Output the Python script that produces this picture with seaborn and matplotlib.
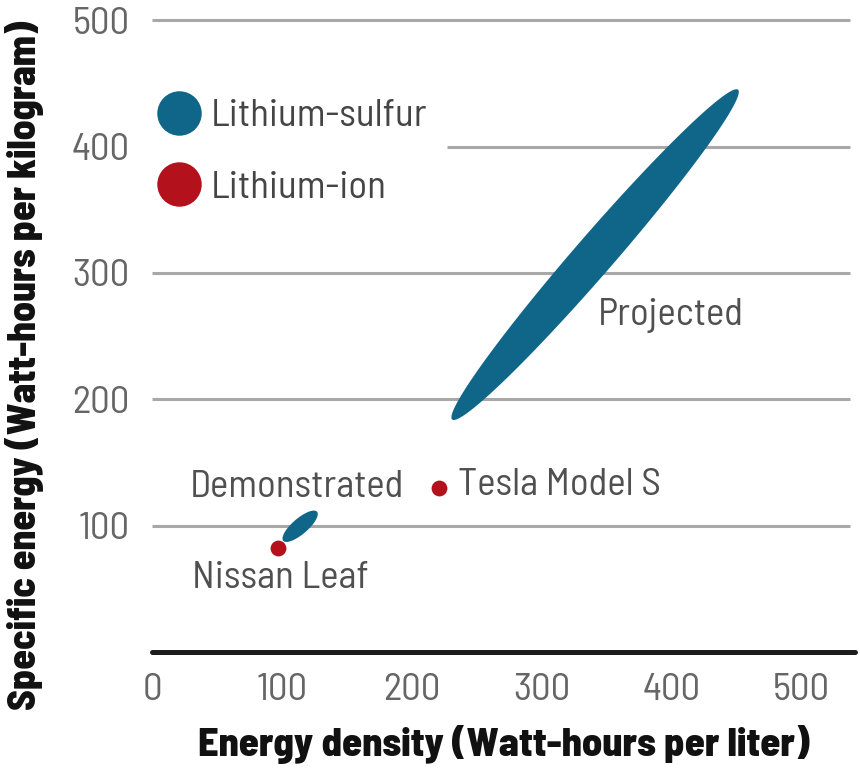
import numpy as np
import pandas as pd
import matplotlib.pyplot as plt
import seaborn as sns
from matplotlib.lines import Line2D

# Dati
car_names = ['Nissan Leaf', 'Tesla Model S']
car_density = [97, 221]          # Wh/L
car_specific = [82, 130]         # Wh/kg

region_names = ['Demonstrated', 'Projected']
region_density_low = [101, 231]
region_density_high = [127, 451]
region_specific_low = [88, 184]
region_specific_high = [111, 445]

x_ticks = [0, 100, 200, 300, 400, 500]
y_ticks = [100, 200, 300, 400, 500]

legend_labels = ['Lithium-sulfur', 'Lithium-ion']

BLUE = '#0f6689'
RED = '#b3121c'

sns.set_theme(style='white')
plt.rcParams['font.family'] = ['Barlow Semi Condensed', 'DejaVu Sans']

fig = plt.figure(figsize=(8.6, 7.71), dpi=100)
ax = fig.add_axes([152 / 860, 119 / 771, 703 / 860, 652 / 771])
ax.set_xlim(0, 541)
ax.set_ylim(0, 516)

# griglia orizzontale (la riga 400 lascia spazio alla legenda)
grid_start = [0, 0, 0, 227, 0]
for y, x0 in zip(y_ticks, grid_start):
    ax.hlines(y, x0, 537, color='#a8a8a8', lw=2.2, zorder=1)


def draw_ellipse(ax, x0, y0, x1, y1, ratio, color):
    # ellisse allungata tra due estremi, in coordinate schermo
    p = ax.transData.transform([(x0, y0), (x1, y1)])
    c = p.mean(axis=0)
    v = (p[1] - p[0]) / 2
    n = np.array([-v[1], v[0]]) * ratio
    t = np.linspace(0, 2 * np.pi, 300)
    pts = c + np.outer(np.cos(t), v) + np.outer(np.sin(t), n)
    d = ax.transData.inverted().transform(pts)
    ax.fill(d[:, 0], d[:, 1], color=color, lw=0, zorder=4)


cars = pd.DataFrame({'name': car_names, 'density': car_density, 'specific': car_specific})
sns.scatterplot(data=cars, x='density', y='specific', color=RED, s=130,
                linewidth=0, zorder=3, ax=ax, legend=False)

ratios = [0.35, 0.09]
for i in range(len(region_names)):
    draw_ellipse(ax, region_density_low[i], region_specific_low[i],
                 region_density_high[i], region_specific_high[i], ratios[i], BLUE)

# etichette
txt = dict(fontsize=28, color='#505050', va='center', ha='left',
           textcoords='offset pixels', zorder=5)
ax.annotate('Nissan Leaf', (car_density[0], car_specific[0]), xytext=(-86, -30), **txt)
ax.annotate('Tesla Model S', (car_density[1], car_specific[1]), xytext=(19, 2), **txt)
for i, name in enumerate(region_names):
    cx = (region_density_low[i] + region_density_high[i]) / 2
    cy = (region_specific_low[i] + region_specific_high[i]) / 2
    off = [(-110, 39), (3, -61)][i]
    ax.annotate(name, (cx, cy), xytext=off, **txt)

# legenda
handles = [Line2D([], [], marker='o', ls='', markersize=32, color=BLUE, mew=0),
           Line2D([], [], marker='o', ls='', markersize=32, color=RED, mew=0)]
ax.legend(handles, legend_labels, loc='upper left', bbox_to_anchor=(0.011, 0.848),
          frameon=False, fontsize=28, labelcolor='#454545', handlelength=1.0,
          handletextpad=0.3, labelspacing=0.93, borderpad=0, borderaxespad=0)

# assi
for s in ['top', 'right', 'left']:
    ax.spines[s].set_visible(False)
ax.spines['bottom'].set_color('#1c1c1c')
ax.spines['bottom'].set_linewidth(3.6)
ax.spines['bottom'].set_capstyle('round')

ax.set_xticks(x_ticks)
ax.set_yticks(y_ticks)
ax.tick_params(axis='x', direction='in', length=7, width=1.2, color='#999999',
               pad=15, labelsize=28, labelcolor='#666666')
ax.tick_params(axis='y', length=0, pad=16, labelsize=28, labelcolor='#666666')
ax.grid(False)
ax.set_xlabel('')
ax.set_ylabel('')

fig.text(504 / 860, 1 - 745 / 771, 'Energy density (Watt-hours per liter)',
         ha='center', va='center', fontsize=29, fontweight=800, color='#111111')
fig.text(25 / 860, 1 - 365 / 771, 'Specific energy (Watt-hours per kilogram)',
         ha='center', va='center', rotation=90, fontsize=28.5, fontweight=800,
         color='#111111')

fig.savefig('out.png', dpi=100)
